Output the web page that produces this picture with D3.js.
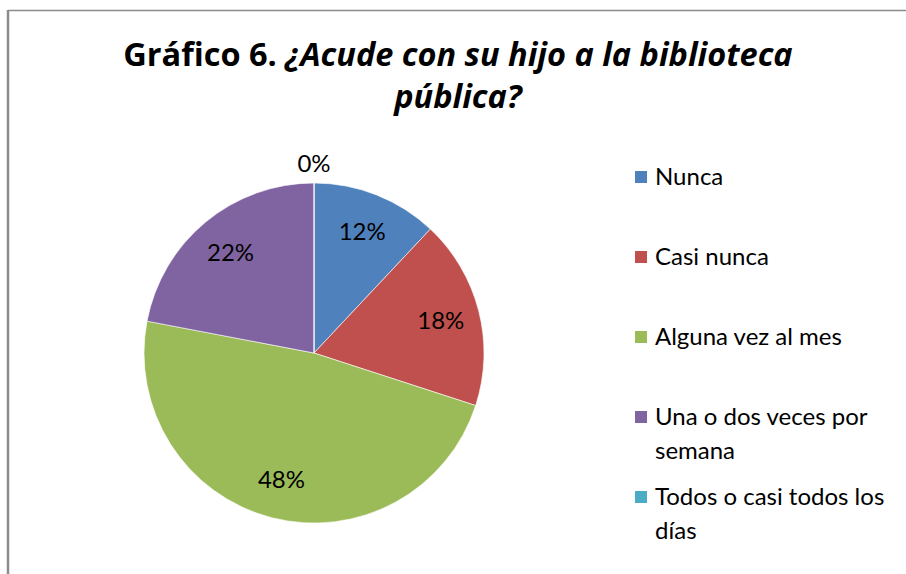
<!DOCTYPE html>
<html>
<head>
<meta charset="utf-8">
<script src="https://cdn.jsdelivr.net/npm/d3@7"></script>
<style>
  body { margin: 0; background: #fff; }
  text { font-family: Lato, "Open Sans", sans-serif; fill: #000; }
</style>
</head>
<body>
<div id="chart"></div>
<script>
var categories = ["Nunca", "Casi nunca", "Alguna vez al mes", "Una o dos veces por semana", "Todos o casi todos los días"];
var values = [12, 18, 48, 22, 0];
var legendLines = [["Nunca"], ["Casi nunca"], ["Alguna vez al mes"], ["Una o dos veces por", "semana"], ["Todos o casi todos los", "días"]];
var colors = ["#4F81BD", "#C0504D", "#9BBB59", "#8064A2", "#4BACC6"];

var w = 906, h = 574;
var cx = 314, cy = 353, rad = 170;

var svg = d3.select("#chart").append("svg").attr("width", w).attr("height", h);

// frame (only top and left edges show)
svg.append("line").attr("x1", 8).attr("y1", 10.5).attr("x2", w).attr("y2", 10.5)
  .attr("stroke", "#8c8c8c").attr("stroke-width", 1.5);
svg.append("line").attr("x1", 8).attr("y1", 10).attr("x2", 8).attr("y2", h)
  .attr("stroke", "#8c8c8c").attr("stroke-width", 2.5);

// title
var title = svg.append("text").attr("text-anchor", "middle").attr("font-size", 32.5)
  .attr("font-weight", "bold").style("font-family", "'Open Sans', sans-serif");
var t1 = title.append("tspan").attr("x", 458).attr("y", 66);
t1.append("tspan").text("Gráfico 6. ");
t1.append("tspan").attr("font-style", "italic").text("¿Acude con su hijo a la biblioteca");
title.append("tspan").attr("x", 458).attr("y", 108).attr("font-style", "italic").text("pública?");

var pie = d3.pie().sort(null).value((d) => d);
var arcs = pie(values);
var arc = d3.arc().innerRadius(0).outerRadius(rad);

var g = svg.append("g").attr("transform", "translate(" + cx + "," + cy + ")");
g.selectAll("path")
  .data(arcs)
  .enter()
  .append("path")
  .attr("d", arc)
  .attr("fill", (d, i) => colors[i])
  .attr("stroke", "#fff")
  .attr("stroke-width", 0.6);

// labels: inside for slices, outside for the empty one
var inner = d3.arc().innerRadius(rad * 0.77).outerRadius(rad * 0.77);
var outer = d3.arc().innerRadius(rad + 19).outerRadius(rad + 19);
g.selectAll(".lbl")
  .data(arcs)
  .enter()
  .append("text")
  .attr("class", "lbl")
  .attr("text-anchor", "middle")
  .attr("dy", "0.35em")
  .attr("font-size", 24)
  .attr("transform", (d) => "translate(" + (d.data > 0 ? inner : outer).centroid(d) + ")")
  .text((d) => d.data + "%");

// legend
var rowY = [177, 257, 337, 417, 497];
var leg = svg.append("g").selectAll("g")
  .data(categories)
  .enter()
  .append("g")
  .attr("transform", (d, i) => "translate(635," + rowY[i] + ")");
leg.append("rect").attr("x", 0).attr("y", -6).attr("width", 12).attr("height", 12)
  .attr("fill", (d, i) => colors[i]);
leg.append("text")
  .attr("font-size", 24)
  .each(function (d, i) {
    var t = d3.select(this);
    legendLines[i].forEach((line, k) => {
      t.append("tspan").attr("x", 20).attr("y", 8 + k * 34).text(line);
    });
  });
</script>
</body>
</html>
